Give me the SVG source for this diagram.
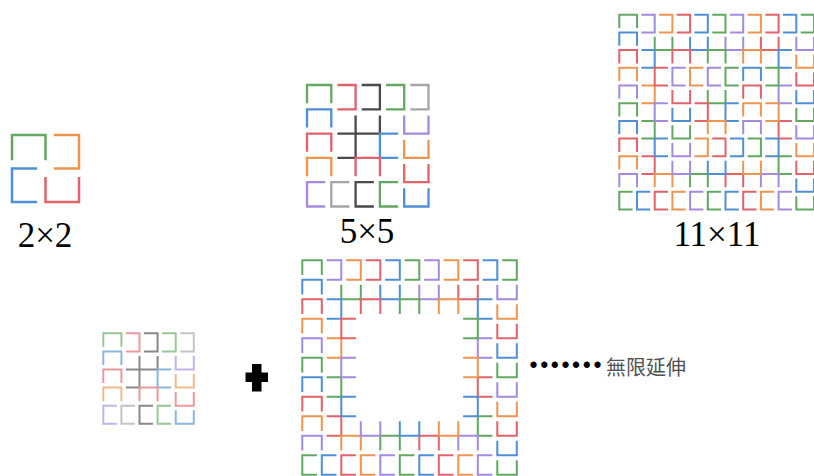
<svg xmlns="http://www.w3.org/2000/svg" width="814" height="476" viewBox="0 0 814 476">
<style>
.fig{fill:none;stroke-linejoin:miter;stroke-linecap:butt}
.G{stroke:#62a862}.P{stroke:#a48be0}.O{stroke:#ee9550}.R{stroke:#e0636a}.B{stroke:#4f8fd6}.K{stroke:#4a4a4a}.Y{stroke:#a5a5a5}
.lbl{font-family:"Liberation Serif","Times New Roman",serif;font-size:35px;fill:#000;text-anchor:middle}
</style>
<defs>
<path id="n" d="M0,0.75V0H1V0.75"/>
<path id="u" d="M0,0.25V1H1V0.25"/>
<path id="d" d="M0.25,0H1V1H0.25"/>
<path id="c" d="M0.75,0H0V1H0.75"/>
</defs>

<g id="grid-2x2" class="fig" transform="translate(12,135) scale(33.5)" stroke-width="0.075">
<use href="#n" x="0" y="0" class="G"/><use href="#d" x="1" y="0" class="O"/>
<use href="#c" x="0" y="1" class="B"/><use href="#u" x="1" y="1" class="R"/>
</g>
<text id="label-2x2" class="lbl" x="45" y="247">2×2</text>

<g id="grid-5x5" class="fig" transform="translate(307,85) scale(24.3)" stroke-width="0.095">
<use href="#n" x="0" y="0" class="G"/><use href="#d" x="1" y="0" class="R"/><use href="#d" x="2" y="0" class="K"/><use href="#d" x="3" y="0" class="G"/><use href="#d" x="4" y="0" class="Y"/>
<use href="#u" x="4" y="1" class="P"/><use href="#u" x="4" y="2" class="O"/><use href="#u" x="4" y="3" class="R"/><use href="#u" x="4" y="4" class="B"/>
<use href="#n" x="0" y="1" class="B"/><use href="#n" x="0" y="2" class="R"/><use href="#n" x="0" y="3" class="O"/>
<use href="#c" x="0" y="4" class="P"/><use href="#c" x="1" y="4" class="Y"/><use href="#c" x="2" y="4" class="K"/><use href="#c" x="3" y="4" class="G"/>
<use href="#u" x="2" y="1" class="K"/><use href="#d" x="1" y="2" class="K"/><use href="#c" x="3" y="2" class="B"/><use href="#n" x="2" y="3" class="R"/>
</g>
<text id="label-5x5" class="lbl" x="367" y="243">5×5</text>

<g id="grid-11x11" class="fig" transform="translate(619.3,14.7) scale(17.7)" stroke-width="0.113">
<use href="#n" x="0" y="0" class="G"/>
<use href="#d" x="1" y="0" class="P"/><use href="#d" x="2" y="0" class="O"/><use href="#d" x="3" y="0" class="R"/><use href="#d" x="4" y="0" class="B"/><use href="#d" x="5" y="0" class="G"/><use href="#d" x="6" y="0" class="P"/><use href="#d" x="7" y="0" class="O"/><use href="#d" x="8" y="0" class="R"/><use href="#d" x="9" y="0" class="B"/><use href="#d" x="10" y="0" class="G"/>
<use href="#u" x="10" y="1" class="P"/><use href="#u" x="10" y="2" class="O"/><use href="#u" x="10" y="3" class="R"/><use href="#u" x="10" y="4" class="B"/><use href="#u" x="10" y="5" class="G"/><use href="#u" x="10" y="6" class="P"/><use href="#u" x="10" y="7" class="O"/><use href="#u" x="10" y="8" class="R"/><use href="#u" x="10" y="9" class="B"/><use href="#u" x="10" y="10" class="G"/>
<use href="#c" x="0" y="10" class="G"/><use href="#c" x="1" y="10" class="B"/><use href="#c" x="2" y="10" class="R"/><use href="#c" x="3" y="10" class="O"/><use href="#c" x="4" y="10" class="P"/><use href="#c" x="5" y="10" class="G"/><use href="#c" x="6" y="10" class="B"/><use href="#c" x="7" y="10" class="R"/><use href="#c" x="8" y="10" class="O"/><use href="#c" x="9" y="10" class="P"/>
<use href="#n" x="0" y="1" class="B"/><use href="#n" x="0" y="2" class="R"/><use href="#n" x="0" y="3" class="O"/><use href="#n" x="0" y="4" class="P"/><use href="#n" x="0" y="5" class="G"/><use href="#n" x="0" y="6" class="B"/><use href="#n" x="0" y="7" class="R"/><use href="#n" x="0" y="8" class="O"/><use href="#n" x="0" y="9" class="P"/>
<use href="#u" x="2" y="1" class="G"/><use href="#u" x="4" y="1" class="B"/><use href="#u" x="6" y="1" class="P"/><use href="#u" x="8" y="1" class="R"/>
<use href="#d" x="1" y="2" class="B"/><use href="#d" x="1" y="4" class="O"/><use href="#d" x="1" y="6" class="G"/><use href="#d" x="1" y="8" class="R"/>
<use href="#c" x="9" y="2" class="B"/><use href="#c" x="9" y="4" class="P"/><use href="#c" x="9" y="6" class="R"/><use href="#c" x="9" y="8" class="G"/>
<use href="#n" x="2" y="9" class="O"/><use href="#n" x="4" y="9" class="G"/><use href="#n" x="6" y="9" class="R"/><use href="#n" x="8" y="9" class="P"/>
<use href="#n" x="3" y="2" class="R"/><use href="#n" x="5" y="2" class="G"/><use href="#n" x="7" y="2" class="O"/>
<use href="#u" x="3" y="8" class="P"/><use href="#u" x="5" y="8" class="B"/><use href="#u" x="7" y="8" class="O"/>
<use href="#c" x="2" y="3" class="R"/><use href="#c" x="2" y="5" class="P"/><use href="#c" x="2" y="7" class="B"/>
<use href="#d" x="8" y="3" class="G"/><use href="#d" x="8" y="5" class="O"/><use href="#d" x="8" y="7" class="B"/>
<use href="#c" x="3" y="3" class="P"/><use href="#c" x="4" y="3" class="O"/><use href="#c" x="5" y="3" class="P"/><use href="#c" x="6" y="3" class="G"/><use href="#n" x="7" y="3" class="B"/>
<use href="#n" x="7" y="4" class="R"/><use href="#n" x="7" y="5" class="O"/><use href="#n" x="7" y="6" class="P"/>
<use href="#u" x="3" y="4" class="R"/><use href="#u" x="3" y="5" class="B"/><use href="#u" x="3" y="6" class="G"/><use href="#u" x="3" y="7" class="P"/>
<use href="#d" x="4" y="7" class="O"/><use href="#d" x="5" y="7" class="R"/><use href="#d" x="6" y="7" class="B"/><use href="#d" x="7" y="7" class="G"/>
<use href="#u" x="5" y="4" class="G"/><use href="#d" x="4" y="5" class="R"/><use href="#c" x="6" y="5" class="B"/><use href="#n" x="5" y="6" class="O"/>
</g>
<text id="label-11x11" class="lbl" x="717" y="246">11×11</text>

<g id="grid-5x5-small" class="fig" transform="translate(103.3,333.3) scale(18.1)" stroke-width="0.11" opacity="0.65">
<use href="#n" x="0" y="0" class="G"/><use href="#d" x="1" y="0" class="R"/><use href="#d" x="2" y="0" class="K"/><use href="#d" x="3" y="0" class="G"/><use href="#d" x="4" y="0" class="Y"/>
<use href="#u" x="4" y="1" class="P"/><use href="#u" x="4" y="2" class="O"/><use href="#u" x="4" y="3" class="R"/><use href="#u" x="4" y="4" class="B"/>
<use href="#n" x="0" y="1" class="B"/><use href="#n" x="0" y="2" class="R"/><use href="#n" x="0" y="3" class="O"/>
<use href="#c" x="0" y="4" class="P"/><use href="#c" x="1" y="4" class="Y"/><use href="#c" x="2" y="4" class="K"/><use href="#c" x="3" y="4" class="G"/>
<use href="#u" x="2" y="1" class="K"/><use href="#d" x="1" y="2" class="K"/><use href="#c" x="3" y="2" class="B"/><use href="#n" x="2" y="3" class="R"/>
</g>

<path id="plus" d="M252,364H261.5V372.5H268V382H261.5V391.5H252V382H245.5V372.5H252Z" fill="#000"/>

<g id="ring-11x11" class="fig" transform="translate(302.3,260.3) scale(19.5)" stroke-width="0.103">
<use href="#n" x="0" y="0" class="G"/>
<use href="#d" x="1" y="0" class="P"/><use href="#d" x="2" y="0" class="O"/><use href="#d" x="3" y="0" class="R"/><use href="#d" x="4" y="0" class="B"/><use href="#d" x="5" y="0" class="G"/><use href="#d" x="6" y="0" class="P"/><use href="#d" x="7" y="0" class="O"/><use href="#d" x="8" y="0" class="R"/><use href="#d" x="9" y="0" class="B"/><use href="#d" x="10" y="0" class="G"/>
<use href="#u" x="10" y="1" class="P"/><use href="#u" x="10" y="2" class="O"/><use href="#u" x="10" y="3" class="R"/><use href="#u" x="10" y="4" class="B"/><use href="#u" x="10" y="5" class="G"/><use href="#u" x="10" y="6" class="P"/><use href="#u" x="10" y="7" class="O"/><use href="#u" x="10" y="8" class="R"/><use href="#u" x="10" y="9" class="B"/><use href="#u" x="10" y="10" class="G"/>
<use href="#c" x="0" y="10" class="G"/><use href="#c" x="1" y="10" class="B"/><use href="#c" x="2" y="10" class="R"/><use href="#c" x="3" y="10" class="O"/><use href="#c" x="4" y="10" class="P"/><use href="#c" x="5" y="10" class="G"/><use href="#c" x="6" y="10" class="B"/><use href="#c" x="7" y="10" class="R"/><use href="#c" x="8" y="10" class="O"/><use href="#c" x="9" y="10" class="P"/>
<use href="#n" x="0" y="1" class="B"/><use href="#n" x="0" y="2" class="R"/><use href="#n" x="0" y="3" class="O"/><use href="#n" x="0" y="4" class="P"/><use href="#n" x="0" y="5" class="G"/><use href="#n" x="0" y="6" class="B"/><use href="#n" x="0" y="7" class="R"/><use href="#n" x="0" y="8" class="O"/><use href="#n" x="0" y="9" class="P"/>
<use href="#u" x="2" y="1" class="G"/><use href="#u" x="4" y="1" class="B"/><use href="#u" x="6" y="1" class="P"/><use href="#u" x="8" y="1" class="R"/>
<use href="#d" x="1" y="2" class="B"/><use href="#d" x="1" y="4" class="O"/><use href="#d" x="1" y="6" class="G"/><use href="#d" x="1" y="8" class="R"/>
<use href="#c" x="9" y="2" class="B"/><use href="#c" x="9" y="4" class="P"/><use href="#c" x="9" y="6" class="R"/><use href="#c" x="9" y="8" class="G"/>
<use href="#n" x="2" y="9" class="O"/><use href="#n" x="4" y="9" class="G"/><use href="#n" x="6" y="9" class="R"/><use href="#n" x="8" y="9" class="P"/>
<use href="#n" x="3" y="2" class="R"/><use href="#n" x="5" y="2" class="G"/><use href="#n" x="7" y="2" class="O"/>
<use href="#u" x="3" y="8" class="P"/><use href="#u" x="5" y="8" class="B"/><use href="#u" x="7" y="8" class="O"/>
<use href="#c" x="2" y="3" class="R"/><use href="#c" x="2" y="5" class="P"/><use href="#c" x="2" y="7" class="B"/>
<use href="#d" x="8" y="3" class="G"/><use href="#d" x="8" y="5" class="O"/><use href="#d" x="8" y="7" class="B"/>
</g>

<g id="continue-note">
<text x="529.5" y="372.5" font-family="'Liberation Sans',Arial,sans-serif" font-size="23" letter-spacing="2.6" fill="#000">•••••••</text>
<text x="606" y="375" font-family="'Noto Sans CJK TC','Noto Sans CJK JP',sans-serif" font-size="20" fill="#505050">無限延伸</text>
</g>
</svg>
